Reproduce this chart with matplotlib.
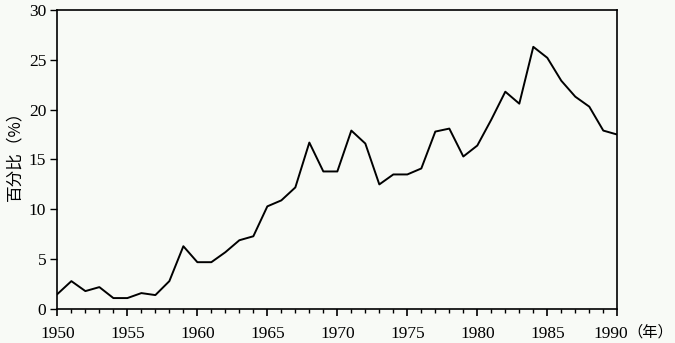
import matplotlib.pyplot as plt
from matplotlib.ticker import MultipleLocator
from matplotlib.transforms import ScaledTranslation

years = list(range(1950, 1991))
percent = [1.5, 2.8, 1.8, 2.2, 1.1, 1.1, 1.6, 1.4, 2.8, 6.3,
           4.7, 4.7, 5.7, 6.9, 7.3, 10.3, 10.9, 12.2, 16.7, 13.8,
           13.8, 17.9, 16.6, 12.5, 13.5, 13.5, 14.1, 17.8, 18.1, 15.3,
           16.4, 19.0, 21.8, 20.6, 26.3, 25.2, 22.9, 21.3, 20.3, 17.9,
           17.5]
x_ticks = [1950, 1955, 1960, 1965, 1970, 1975, 1980, 1985, 1990]
y_ticks = [0, 5, 10, 15, 20, 25, 30]

bg = '#f8faf6'
num_font = ['Liberation Serif', 'Noto Sans CJK SC']
cjk_font = ['Noto Sans CJK SC', 'DejaVu Sans']

fig = plt.figure(figsize=(6.75, 3.43), dpi=100, facecolor=bg)
ax = fig.add_axes([0.085, 0.099, 0.8295, 0.872], facecolor=bg)

ax.plot(years, percent, color='black', lw=1.4)

ax.set_xlim(1950, 1990)
ax.set_ylim(0, 30)
ax.set_xticks(x_ticks)
ax.set_yticks(y_ticks)
ax.xaxis.set_minor_locator(MultipleLocator(1))
ax.tick_params(axis='x', which='major', length=5, width=1.2, direction='out', pad=7)
ax.tick_params(axis='x', which='minor', length=3, width=1.0, direction='out')
ax.tick_params(axis='y', which='major', length=5, width=1.0, direction='out', pad=3)
for lab in ax.get_xticklabels() + ax.get_yticklabels():
    lab.set_family(num_font)
    lab.set_fontsize(12.5)
for s in ax.spines.values():
    s.set_linewidth(1.2)

# last year label sits a bit left to leave room for the unit
last = ax.get_xticklabels()[-1]
last.set_transform(last.get_transform() + ScaledTranslation(-7 / 100, 0, fig.dpi_scale_trans))

fig.text(15 / 675, 1 - 152 / 343, '百分比（%）', family=cjk_font, fontsize=12,
         rotation=90, ha='center', va='center')
fig.text(650 / 675, 1 - 332 / 343, '（年）', family=cjk_font, fontsize=11,
         ha='center', va='center')

fig.savefig('out.png', dpi=100, facecolor=bg)
